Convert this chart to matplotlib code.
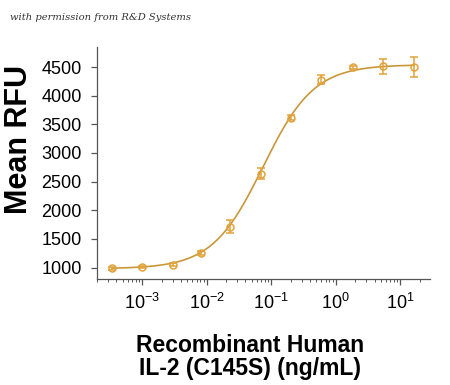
import numpy as np
import matplotlib
matplotlib.use("Agg")
import matplotlib.pyplot as plt
from matplotlib.ticker import LogLocator, FixedLocator, NullFormatter

plt.rcParams['font.family'] = ['Liberation Sans', 'DejaVu Sans']
plt.rcParams['mathtext.fontset'] = 'custom'
plt.rcParams['mathtext.rm'] = 'Liberation Sans'
plt.rcParams['mathtext.it'] = 'Liberation Sans'

# concentrations (ng/mL), mean RFU and error
conc = [3.4e-4, 1.0e-3, 3.0e-3, 8.2e-3, 2.3e-2, 6.9e-2, 0.2, 0.6, 1.85, 5.5, 16.5]
rfu = [985, 1010, 1050, 1255, 1710, 2640, 3615, 4280, 4495, 4515, 4500]
err = [20, 20, 25, 40, 115, 90, 40, 80, 30, 130, 170]

# 4PL fit parameters
bottom, top, ec50, hill = 980, 4540, 0.075, 1.1

line_col = '#C9973A'
mark_col = '#E2A23A'

fig = plt.figure(figsize=(4.5, 3.85), dpi=100)
ax = fig.add_axes([0.2156, 0.2753, 0.74, 0.6027])

xs = np.logspace(np.log10(conc[0]), np.log10(conc[-1]), 300)
ax.plot(xs, bottom + (top - bottom) / (1 + (ec50 / xs) ** hill), color=line_col, lw=1.2)
ax.errorbar(conc, rfu, yerr=err, fmt='o', mfc='none', mec=mark_col, ms=5, mew=1.1,
            ecolor=mark_col, elinewidth=1.1, capsize=3, capthick=1.1)

ax.set_xscale('log')
ax.set_xlim(2.0e-4, 29)
ax.set_ylim(800, 4850)
ax.set_yticks([1000, 1500, 2000, 2500, 3000, 3500, 4000, 4500])
ax.xaxis.set_major_locator(FixedLocator([1e-3, 1e-2, 1e-1, 1, 10]))
ax.set_xticklabels(['$10^{-3}$', '$10^{-2}$', '$10^{-1}$', '$10^{0}$', '$10^{1}$'])
ax.xaxis.set_minor_locator(LogLocator(base=10, subs=np.arange(2, 10)))
ax.xaxis.set_minor_formatter(NullFormatter())

for s in ['top', 'right']:
    ax.spines[s].set_visible(False)
for s in ['left', 'bottom']:
    ax.spines[s].set_color('#555555')
    ax.spines[s].set_linewidth(0.9)
ax.tick_params(axis='both', which='major', labelsize=13, color='#555555', length=4, width=0.9)
ax.tick_params(axis='x', which='minor', color='#555555', length=2.5, width=0.7)
ax.tick_params(axis='x', pad=6)
ax.tick_params(axis='y', pad=7)

ax.set_ylabel('Mean RFU', fontsize=22, fontweight='bold')
ax.yaxis.set_label_coords(-0.19, 0.6)
ax.set_xlabel('Recombinant Human\nIL-2 (C145S) (ng/mL)', fontsize=16.5, fontweight='bold',
              linespacing=1.05, va='top')
ax.xaxis.set_label_coords(0.46, -0.235)

fig.text(0.022, 0.955, 'with permission from R&D Systems', fontsize=7.2, style='italic',
         family='DejaVu Serif', color='#333333', va='center')

fig.savefig('out.png', dpi=100)
